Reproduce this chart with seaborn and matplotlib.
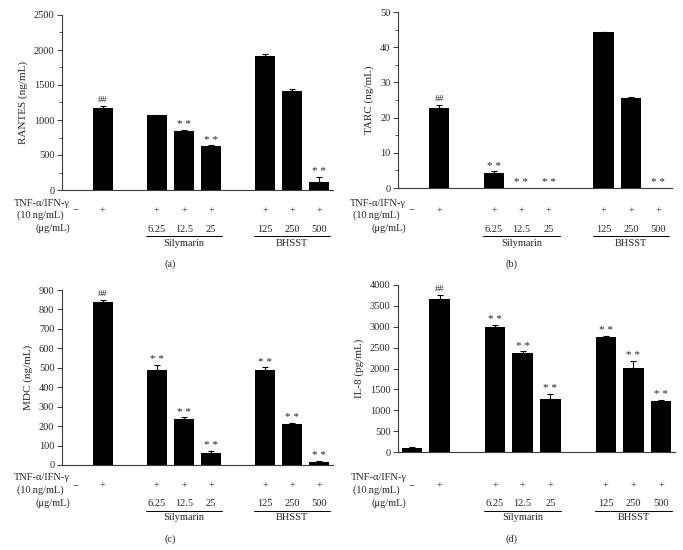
import numpy as np
import pandas as pd
import matplotlib
matplotlib.use("Agg")
import matplotlib.pyplot as plt
import matplotlib.transforms as mtransforms
import seaborn as sns

# ---------------- data ----------------
order = ["Control", "TNF", "_gap1", "Sil 6.25", "Sil 12.5", "Sil 25",
         "_gap2", "BHSST 125", "BHSST 250", "BHSST 500"]
groups = ["Control", "TNF", "Sil 6.25", "Sil 12.5", "Sil 25",
          "BHSST 125", "BHSST 250", "BHSST 500"]
stim_marks = ["\u2212", "+", "+", "+", "+", "+", "+", "+"]
dose_labels = ["", "", "6.25", "12.5", "25", "125", "250", "500"]
silymarin_groups = ["Sil 6.25", "Sil 12.5", "Sil 25"]
bhsst_groups = ["BHSST 125", "BHSST 250", "BHSST 500"]

rantes_mean = [0, 1165, 1065, 845, 630, 1915, 1420, 110]
rantes_err = [0, 30, 5, 15, 10, 25, 25, 80]
rantes_sig = ["", "##", "", "**", "**", "", "", "**"]

tarc_mean = [0, 22.8, 4.2, 0, 0, 44.3, 25.6, 0]
tarc_err = [0, 0.8, 0.5, 0, 0, 0.1, 0.2, 0]
tarc_sig = ["", "##", "**", "**", "**", "", "", "**"]

mdc_mean = [0, 838, 490, 237, 63, 487, 212, 16]
mdc_err = [0, 10, 25, 8, 8, 15, 6, 4]
mdc_sig = ["", "##", "**", "**", "**", "**", "**", "**"]

il8_mean = [100, 3670, 2990, 2370, 1270, 2750, 2020, 1220]
il8_err = [20, 100, 50, 40, 130, 40, 160, 30]
il8_sig = ["", "##", "**", "**", "**", "**", "**", "**"]

# ---------------- style ----------------
sns.set_theme(style="ticks")
plt.rcParams["font.family"] = ["Liberation Serif", "DejaVu Serif"]
plt.rcParams["font.size"] = 7.5
FS = 7.5
SPINE = "#3a3a3a"

W, H = 683, 550
fig = plt.figure(figsize=(W / 100, H / 100), dpi=100)


def axes_px(left, top, right, bottom):
    return fig.add_axes([left / W, 1 - bottom / H, (right - left) / W, (bottom - top) / H])


def fy(px):
    return 1 - px / H


def draw(ax, means, errs, sigs, ylabel, ymax, ystep, minor, letter, panel_top, letter_x):
    df = pd.DataFrame({"group": groups, "value": means})
    sns.barplot(data=df, x="group", y="value", order=order, color="black",
                saturation=1, width=0.74, errorbar=None, linewidth=0, ax=ax)
    xpos = np.array([order.index(g) for g in groups])
    m = np.array(means, dtype=float)
    e = np.array(errs, dtype=float)
    mask = e > 0
    ax.errorbar(xpos[mask], m[mask], yerr=[np.zeros(mask.sum()), e[mask]],
                fmt="none", ecolor="black", elinewidth=0.8, capsize=2.2, capthick=0.8)
    for x, val, er, s in zip(xpos, m, e, sigs):
        if s == "##":
            ax.annotate("##", xy=(x, val + er), xytext=(0, 1.5), textcoords="offset points",
                        ha="center", va="bottom", fontsize=6.8, color="#222222")
        elif s:
            ax.annotate("* *", xy=(x, val + er), xytext=(0, 0.5), textcoords="offset points",
                        ha="center", va="bottom", fontsize=8, color="#222222")

    ax.set_xlim(-0.5, 9.5)
    ax.set_ylim(0, ymax)
    ax.set_yticks(np.arange(0, ymax + ystep / 2, ystep))
    if minor:
        ax.set_yticks(np.arange(ystep / 2, ymax, ystep), minor=True)
        ax.tick_params(axis="y", which="minor", length=2, width=0.6, color=SPINE)
    ax.tick_params(axis="y", which="major", length=3.5, width=0.7, color=SPINE,
                   labelsize=FS, pad=2)
    ax.set_xticks([])
    ax.set_xlabel("")
    ax.set_ylabel(ylabel, fontsize=8, labelpad=4)
    for sp in ["top", "right"]:
        ax.spines[sp].set_visible(False)
    for sp in ["left", "bottom"]:
        ax.spines[sp].set_color(SPINE)
        ax.spines[sp].set_linewidth(0.8)

    tr_data = mtransforms.blended_transform_factory(ax.transData, fig.transFigure)
    tr_axes = mtransforms.blended_transform_factory(ax.transAxes, fig.transFigure)

    # row labels on the left
    ax.text(0.03, fy(panel_top + 203), "TNF-\u03b1/IFN-\u03b3", transform=tr_axes,
            ha="right", va="center", fontsize=FS)
    ax.text(0.005, fy(panel_top + 215), "(10\u2009ng/mL)", transform=tr_axes,
            ha="right", va="center", fontsize=FS)
    ax.text(0.03, fy(panel_top + 228), "(\u03bcg/mL)", transform=tr_axes,
            ha="right", va="center", fontsize=FS)

    for x, sm, d in zip(xpos, stim_marks, dose_labels):
        ax.text(x, fy(panel_top + 211), sm, transform=tr_data, ha="center",
                va="center", fontsize=FS)
        if d:
            ax.text(x, fy(panel_top + 229), d, transform=tr_data, ha="center",
                    va="center", fontsize=FS)

    for grp, name in [(silymarin_groups, "Silymarin"), (bhsst_groups, "BHSST")]:
        gx = [order.index(g) for g in grp]
        ax.plot([min(gx) - 0.4, max(gx) + 0.4], [fy(panel_top + 236)] * 2,
                transform=tr_data, color="black", lw=0.7, clip_on=False)
        ax.text(np.mean(gx), fy(panel_top + 243), name, transform=tr_data,
                ha="center", va="center", fontsize=FS)

    fig.text(letter_x / W, fy(panel_top + 264), letter, ha="center", va="center",
             fontsize=FS)


ax_a = axes_px(62, 15, 333, 190)
ax_b = axes_px(398, 12, 672, 188)
ax_c = axes_px(62, 290, 333, 465)
ax_d = axes_px(398, 285, 675, 452)

draw(ax_a, rantes_mean, rantes_err, rantes_sig, "RANTES (ng/mL)", 2500, 500, True, "(a)", 0, 170)
draw(ax_b, tarc_mean, tarc_err, tarc_sig, "TARC (ng/mL)", 50, 10, True, "(b)", 0, 511)
draw(ax_c, mdc_mean, mdc_err, mdc_sig, "MDC (ng/mL)", 900, 100, False, "(c)", 275, 170)
draw(ax_d, il8_mean, il8_err, il8_sig, "IL-8 (pg/mL)", 4000, 500, False, "(d)", 275, 511)

fig.savefig("out.png", dpi=100, facecolor="white")
